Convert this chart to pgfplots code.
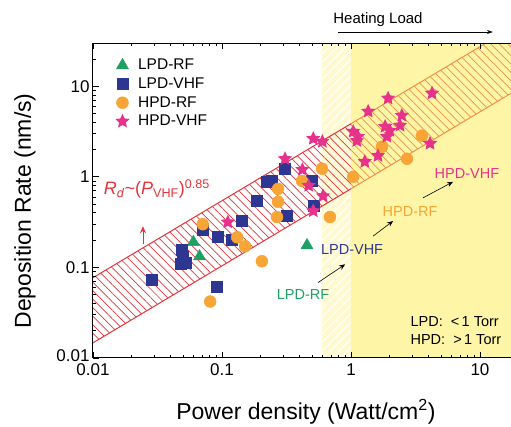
\documentclass[border=0pt]{standalone}
\usepackage{fontspec}
\setmainfont{Liberation Sans}
\usepackage{pgfplots}
\pgfplotsset{compat=1.18}
\usetikzlibrary{patterns.meta,calc,arrows.meta}

\definecolor{cGreen}{RGB}{30,160,100}
\definecolor{cBlue}{RGB}{45,55,145}
\definecolor{cOrange}{RGB}{247,165,55}
\definecolor{cMag}{RGB}{230,50,140}
\definecolor{cRed}{RGB}{228,52,58}
\definecolor{cYel}{RGB}{253,236,80}
\definecolor{cStrip}{RGB}{255,249,205}

\pgfdeclareplotmark{fstar}{%
 \pgfpathmoveto{\pgfpointpolar{90}{\pgfplotmarksize}}%
 \pgfpathlineto{\pgfpointpolar{126}{0.48\pgfplotmarksize}}%
 \pgfpathlineto{\pgfpointpolar{162}{\pgfplotmarksize}}%
 \pgfpathlineto{\pgfpointpolar{198}{0.48\pgfplotmarksize}}%
 \pgfpathlineto{\pgfpointpolar{234}{\pgfplotmarksize}}%
 \pgfpathlineto{\pgfpointpolar{270}{0.48\pgfplotmarksize}}%
 \pgfpathlineto{\pgfpointpolar{306}{\pgfplotmarksize}}%
 \pgfpathlineto{\pgfpointpolar{342}{0.48\pgfplotmarksize}}%
 \pgfpathlineto{\pgfpointpolar{18}{\pgfplotmarksize}}%
 \pgfpathlineto{\pgfpointpolar{54}{0.48\pgfplotmarksize}}%
 \pgfpathclose
 \pgfusepathqfill
}

\begin{document}
\begin{tikzpicture}
\begin{axis}[
  scale only axis, width=425.8pt, height=315pt,
  xmode=log, ymode=log,
  xmin=0.01, xmax=20, ymin=0.01, ymax=30,
  xtick={0.01,0.1,1,10}, ytick={0.01,0.1,1,10},
  xticklabels={0.01,0.1,1,10}, yticklabels={\raisebox{5pt}{0.01},0.1,1,10},
  minor xtick={0.02,0.03,0.04,0.05,0.06,0.07,0.08,0.09,0.2,0.3,0.4,0.5,0.6,0.7,0.8,0.9,2,3,4,5,6,7,8,9,20},
  minor ytick={0.02,0.03,0.04,0.05,0.06,0.07,0.08,0.09,0.2,0.3,0.4,0.5,0.6,0.7,0.8,0.9,2,3,4,5,6,7,8,9,20},
  tick align=inside,
  major tick length=6pt, minor tick length=3pt,
  every tick/.style={black, line width=0.8pt},
  tick label style={font=\fontsize{17}{17}\selectfont},
  xticklabel style={yshift=-2pt},
  /pgf/number format/assume math mode=true,
  xlabel={Power density (Watt/cm\textsuperscript{2})},
  ylabel={Deposition Rate (nm/s)},
  every axis x label/.style={at={(axis description cs:0.5,0)}, anchor=base, yshift=-62pt, font=\fontsize{23}{23}\selectfont},
  every axis y label/.style={at={(axis description cs:-0.16,0.467)}, rotate=90, anchor=center, font=\fontsize{23}{23}\selectfont},
  clip mode=individual,
  axis on top,
  axis line style={line width=1pt},
  legend cell align=left,
  legend style={draw=none, fill=none, at={(axis description cs:0.045,0.96)}, anchor=north west,
    font=\fontsize{15.5}{16}\selectfont, row sep=3.5pt, column sep=7pt, nodes={inner sep=1.5pt}},
]
\coordinate (ll) at (rel axis cs:0,0);
% strip region 0.6 - 1
\addplot[draw=none, fill=cStrip, forget plot] coordinates {(0.6,0.01) (0.6,30) (1,30) (1,0.01)} -- cycle;
\addplot[draw=none, pattern={Lines[angle=45,distance=6pt,line width=1.2pt]}, pattern color=white, forget plot] coordinates {(0.6,0.01) (0.6,30) (1,30) (1,0.01)} -- cycle;
% band
\addplot[draw=none, pattern={Lines[angle=-45,distance=6pt,line width=0.7pt]}, pattern color=cRed, forget plot] coordinates {(0.01,0.077) (20,49.2) (20,9.4) (0.01,0.0147)} -- cycle;
\addplot[cRed, line width=1pt, forget plot] coordinates {(0.01,0.077) (20,49.2)};
\addplot[cRed, line width=1pt, forget plot] coordinates {(0.01,0.0147) (20,9.4)};
% heating region
\addplot[draw=none, fill=cYel, fill opacity=0.5, forget plot] coordinates {(1,0.01) (1,30) (20,30) (20,0.01)} -- cycle;

\addplot[only marks, mark=triangle*, mark size=7pt, color=cGreen] coordinates {
(0.060,0.19) (0.067,0.132) (0.456,0.175)};
\addlegendentry{LPD-RF}
\addplot[only marks, mark=square*, mark size=5.5pt, color=cBlue] coordinates {
(0.0287,0.074) (0.049,0.158) (0.050,0.132) (0.052,0.114) (0.048,0.11) (0.0915,0.0615)
(0.071,0.264) (0.093,0.221) (0.12,0.204) (0.143,0.325) (0.187,0.54) (0.223,0.88)
(0.244,0.9) (0.308,1.23) (0.32,0.37) (0.499,0.9) (0.51,0.476)};
\addlegendentry{LPD-VHF}
\addplot[only marks, mark=*, mark size=6pt, color=cOrange] coordinates {
(0.081,0.042) (0.071,0.30) (0.131,0.215) (0.151,0.171) (0.204,0.117) (0.272,0.735)
(0.272,0.53) (0.267,0.36) (0.417,0.9) (0.596,1.23) (0.687,0.36) (1.04,1.0)
(1.74,2.15) (2.72,1.58) (3.55,2.85)};
\addlegendentry{HPD-RF}
\addplot[only marks, mark=fstar, mark size=7.5pt, color=cMag] coordinates {
(0.111,0.316) (0.308,1.58) (0.42,1.2) (0.47,0.8) (0.607,0.615) (0.51,0.42)
(0.51,2.64) (0.6,2.45) (1.04,3.16) (1.13,2.78) (1.11,2.5) (1.28,1.47) (1.62,1.71)
(1.36,5.27) (1.94,7.36) (4.25,8.36) (2.48,4.76) (2.4,3.69) (1.84,3.59) (2.0,3.24)
(1.9,2.78) (4.1,2.33)};
\addlegendentry{HPD-VHF}

% annotations
\node[text=cRed, font=\fontsize{18}{18}\selectfont] at (axis cs:0.0313,0.735)
  {\textit{R}\textsubscript{\textit{d}}\textasciitilde(\textit{P}\textsubscript{VHF})\textsuperscript{0.85}};
\draw[cRed, line width=0.9pt, -{Stealth[length=7pt,width=6pt]}] (axis cs:0.0244,0.18) -- (axis cs:0.0244,0.285);

\node[text=cGreen, font=\fontsize{14.5}{15}\selectfont] at (axis cs:0.425,0.05) {LPD-RF};
\draw[line width=0.6pt, -{Stealth[length=6pt,width=5pt]}] (axis cs:0.555,0.068) -- (axis cs:0.9,0.108);
\node[text=cBlue, font=\fontsize{14.5}{15}\selectfont] at (axis cs:1.02,0.158) {LPD-VHF};
\draw[line width=0.6pt, -{Stealth[length=6pt,width=5pt]}] (axis cs:1.48,0.221) -- (axis cs:2.12,0.325);
\node[text=cOrange, font=\fontsize{14.5}{15}\selectfont] at (axis cs:2.87,0.41) {HPD-RF};
\draw[line width=0.6pt, -{Stealth[length=6pt,width=5pt]}] (axis cs:3.61,0.585) -- (axis cs:6.18,0.88);
\node[text=cMag, font=\fontsize{14.5}{15}\selectfont] at (axis cs:7.93,1.08) {HPD-VHF};

\node[anchor=west, align=left, font=\fontsize{14.5}{18}\selectfont] at (axis cs:2.72,0.02)
  {LPD:\ \ {<}\,1 Torr\\HPD:\ \ {>}\,1 Torr};

\node[font=\fontsize{15}{15}\selectfont] at ([yshift=23pt]axis cs:1.62,30) {Heating Load};
\draw[line width=0.6pt, -{Stealth[length=6pt,width=4pt]}] ([yshift=11pt]axis cs:0.79,30) -- ([yshift=11pt]axis cs:12.6,30);
\end{axis}
\pgfresetboundingbox
\path[use as bounding box] ($(ll)+(-93pt,-69pt)$) rectangle ($(ll)+(418pt,358pt)$);
\end{tikzpicture}
\end{document}
